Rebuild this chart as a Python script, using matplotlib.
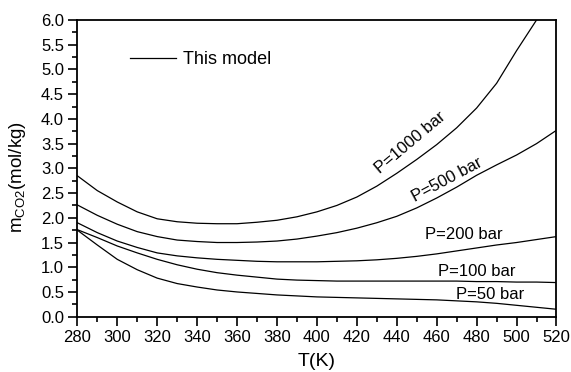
import matplotlib.pyplot as plt
import numpy as np

plt.rcParams['font.family'] = ['Liberation Sans', 'DejaVu Sans']
plt.rcParams['mathtext.fontset'] = 'custom'
plt.rcParams['mathtext.rm'] = 'Liberation Sans'

# temperature grid (K)
T = np.arange(280, 530, 10)

# CO2 solubility (mol/kg)
m_1000 = [2.85, 2.55, 2.32, 2.12, 1.98, 1.92, 1.89, 1.88, 1.88, 1.91, 1.95, 2.02,
          2.12, 2.25, 2.42, 2.64, 2.90, 3.18, 3.48, 3.82, 4.22, 4.72, 5.38, 6.00]
m_500 = [2.26, 2.05, 1.87, 1.72, 1.62, 1.55, 1.52, 1.50, 1.50, 1.51, 1.53, 1.57,
         1.63, 1.70, 1.79, 1.90, 2.03, 2.20, 2.40, 2.62, 2.86, 3.07, 3.27, 3.50, 3.77]
m_200 = [1.90, 1.70, 1.53, 1.40, 1.29, 1.23, 1.19, 1.16, 1.14, 1.12, 1.11, 1.11,
         1.11, 1.12, 1.13, 1.15, 1.18, 1.22, 1.27, 1.33, 1.39, 1.45, 1.50, 1.56, 1.62]
m_100 = [1.76, 1.60, 1.43, 1.29, 1.16, 1.05, 0.96, 0.89, 0.84, 0.80, 0.76, 0.74,
         0.73, 0.72, 0.72, 0.72, 0.72, 0.72, 0.72, 0.72, 0.71, 0.71, 0.70, 0.70, 0.69]
m_50 = [1.75, 1.45, 1.16, 0.95, 0.78, 0.67, 0.60, 0.54, 0.50, 0.47, 0.44, 0.42,
        0.40, 0.39, 0.38, 0.37, 0.36, 0.35, 0.34, 0.32, 0.30, 0.27, 0.23, 0.19, 0.15]

fig = plt.figure(figsize=(5.71, 3.72), dpi=100)
ax = fig.add_axes([0.1354, 0.1487, 0.8392, 0.7975])

lw = 0.9
ax.plot(T[:len(m_1000)], m_1000, 'k-', lw=lw, label='This model')
ax.plot(T, m_500, 'k-', lw=lw)
ax.plot(T, m_200, 'k-', lw=lw)
ax.plot(T, m_100, 'k-', lw=lw)
ax.plot(T, m_50, 'k-', lw=lw)

# curve labels
ax.text(447, 3.51, 'P=1000 bar', rotation=40, ha='center', va='center', fontsize=12)
ax.text(465, 2.76, 'P=500 bar', rotation=28, ha='center', va='center', fontsize=12)
ax.text(473.5, 1.67, 'P=200 bar', ha='center', va='center', fontsize=12)
ax.text(480, 0.91, 'P=100 bar', ha='center', va='center', fontsize=12)
ax.text(487, 0.44, 'P=50 bar', ha='center', va='center', fontsize=12)

ax.set_xlim(280, 520)
ax.set_ylim(0, 6)
ax.set_xticks(np.arange(280, 521, 20))
ax.set_xticks(np.arange(290, 520, 20), minor=True)
ax.set_yticks(np.arange(0, 6.01, 0.5))
ax.set_yticks(np.arange(0.25, 6, 0.5), minor=True)
ax.yaxis.set_major_formatter(plt.FormatStrFormatter('%.1f'))

ax.tick_params(which='both', direction='out', top=False, right=False, labelsize=12,
               width=1.2, pad=3)
ax.tick_params(which='major', length=6.5)
ax.tick_params(which='minor', length=3.5)
for s in ax.spines.values():
    s.set_linewidth(1.3)

ax.set_xlabel('T(K)', fontsize=14, labelpad=6)
ax.set_ylabel(r'm$_{\mathregular{CO2}}$(mol/kg)', fontsize=13.5)
ax.yaxis.set_label_coords(-0.102, 0.47)

ax.legend(loc='upper left', bbox_to_anchor=(0.075, 0.95), frameon=False, fontsize=13,
          handlelength=2.6, handletextpad=0.35)

fig.savefig('out.png', dpi=100)
